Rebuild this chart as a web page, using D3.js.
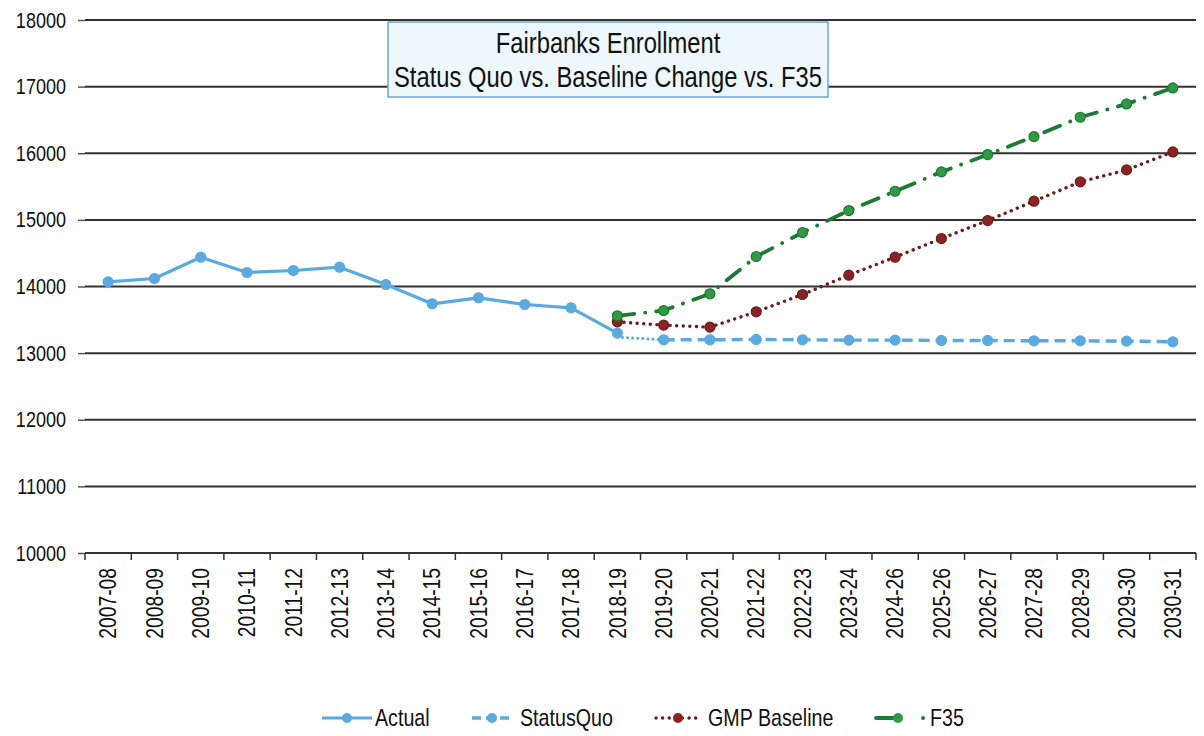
<!DOCTYPE html>
<html>
<head>
<meta charset="utf-8">
<script src="https://cdn.jsdelivr.net/npm/d3@7"></script>
<style>
  body { margin: 0; background: #fff; }
  svg { font-family: "Liberation Sans", Arial, sans-serif; }
</style>
</head>
<body>
<svg id="chart" width="1204" height="736"></svg>
<script>
// categories (school years)
const years = ["2007-08","2008-09","2009-10","2010-11","2011-12","2012-13","2013-14","2014-15",
  "2015-16","2016-17","2017-18","2018-19","2019-20","2020-21","2021-22","2022-23","2023-24",
  "2024-26","2025-26","2026-27","2027-28","2028-29","2029-30","2030-31"];

// series values (null = no value that year)
const actual = [14070,14120,14440,14210,14240,14290,14030,13740,13830,13730,13680,13300,
  null,null,null,null,null,null,null,null,null,null,null,null];
const statusQuo = [null,null,null,null,null,null,null,null,null,null,null,13240,
  13200,13200,13205,13200,13195,13195,13190,13190,13185,13185,13180,13170];
const gmpBaseline = [null,null,null,null,null,null,null,null,null,null,null,13470,
  13420,13390,13620,13880,14170,14440,14720,14990,15280,15570,15750,16020];
const f35 = [null,null,null,null,null,null,null,null,null,null,null,13560,
  13640,13890,14450,14810,15140,15430,15720,15980,16250,16540,16740,16980];

const yTicks = [10000,11000,12000,13000,14000,15000,16000,17000,18000];
const titleLines = ["Fairbanks Enrollment", "Status Quo vs. Baseline Change vs. F35"];

const svg = d3.select("#chart");
const plotLeft = 85, plotRight = 1196, plotTop = 20, plotBottom = 553;
const narrow = 0.82; // the original uses a condensed sans, squeeze text horizontally

const x = d3.scaleBand().domain(years).range([plotLeft, plotRight]).padding(0);
const y = d3.scaleLinear().domain([10000, 18000]).range([plotBottom, plotTop]);
const cx = d => x(d) + x.bandwidth() / 2;

// horizontal gridlines
svg.append("g")
  .selectAll("line")
  .data(yTicks.slice(1))
  .join("line")
  .attr("x1", plotLeft).attr("x2", plotRight)
  .attr("y1", d => y(d)).attr("y2", d => y(d))
  .attr("stroke", "#333")
  .attr("stroke-width", 2);

// y axis labels + small ticks
const yAxis = svg.append("g")
  .attr("transform", `translate(${plotLeft},0)`)
  .call(d3.axisLeft(y).tickValues(yTicks).tickSize(7).tickPadding(12).tickFormat(d3.format("d")));
yAxis.select(".domain").remove();
yAxis.selectAll(".tick line").attr("stroke", "#555").attr("stroke-width", 1.5);
yAxis.selectAll("text")
  .attr("font-size", 22)
  .attr("fill", "#111")
  .attr("x", 0)
  .attr("transform", `translate(-19,0) scale(${narrow},1)`);

// x axis baseline with tick marks at band boundaries
svg.append("line")
  .attr("x1", plotLeft).attr("x2", plotRight)
  .attr("y1", y(10000)).attr("y2", y(10000))
  .attr("stroke", "#333").attr("stroke-width", 2);
svg.append("g")
  .selectAll("line")
  .data(d3.range(years.length + 1))
  .join("line")
  .attr("x1", i => plotLeft + i * x.step()).attr("x2", i => plotLeft + i * x.step())
  .attr("y1", y(10000)).attr("y2", y(10000) + 7)
  .attr("stroke", "#333").attr("stroke-width", 1.5);

const xAxis = svg.append("g")
  .attr("transform", `translate(0,${plotBottom})`)
  .call(d3.axisBottom(x).tickSize(0).tickPadding(0));
xAxis.select(".domain").remove();
xAxis.selectAll("text")
  .attr("font-size", 23.5)
  .attr("fill", "#111")
  .attr("text-anchor", "end")
  .attr("y", 0)
  .attr("dy", "0.35em")
  .attr("transform", `translate(0,15) rotate(-90) scale(${narrow},1)`);

// series drawing
const series = [
  { name: "Actual", values: actual, color: "#5aaae0", marker: "#5aaae0", dash: null, width: 3.2 },
  { name: "StatusQuo", values: statusQuo, color: "#5aaae0", marker: "#5aaae0", dash: "11,6", width: 3.4, first: "0.1,5" },
  { name: "GMP Baseline", values: gmpBaseline, color: "#6e1d1d", marker: "#8a2424", dash: "0.1,6.5", width: 3.4, cap: "round" },
  { name: "F35", values: f35, color: "#1d7a35", marker: "#2f9a42", dash: "17,11,0.1,11", width: 3.8, cap: "round" }
];

const line = d3.line()
  .defined(d => d.v != null)
  .x(d => cx(d.year))
  .y(d => y(d.v));

series.forEach(s => {
  const pts = years.map((yr, i) => ({ year: yr, v: s.values[i] }));
  const valid = pts.filter(d => d.v != null);
  // dotted lead-in segment (first two points) for the status quo projection
  const mainPts = s.first ? valid.slice(1) : pts;
  if (s.first) {
    svg.append("path")
      .datum(valid.slice(0, 2))
      .attr("d", line)
      .attr("fill", "none")
      .attr("stroke", s.color)
      .attr("stroke-width", 3)
      .attr("stroke-linecap", "round")
      .attr("stroke-dasharray", s.first);
  }
  svg.append("path")
    .datum(mainPts)
    .attr("d", line)
    .attr("fill", "none")
    .attr("stroke", s.color)
    .attr("stroke-width", s.width)
    .attr("stroke-linecap", s.cap || "butt")
    .attr("stroke-linejoin", "round")
    .attr("stroke-dasharray", s.dash);
  svg.append("g")
    .selectAll("circle")
    .data(s.first ? valid.slice(1) : valid)
    .join("circle")
    .attr("cx", d => cx(d.year))
    .attr("cy", d => y(d.v))
    .attr("r", 5)
    .attr("fill", s.marker)
    .attr("stroke", s.color)
    .attr("stroke-width", 1.2);
});

// title box
const tb = svg.append("g");
tb.append("rect")
  .attr("x", 388).attr("y", 22).attr("width", 440).attr("height", 75)
  .attr("fill", "#eef7fc")
  .attr("stroke", "#6aa8d8")
  .attr("stroke-width", 1.5);
tb.selectAll("text")
  .data(titleLines)
  .join("text")
  .attr("text-anchor", "middle")
  .attr("font-size", 29)
  .attr("fill", "#111")
  .attr("transform", (d, i) => `translate(608,${53 + i * 34}) scale(${narrow},1)`)
  .text(d => d);

// legend
const legend = svg.append("g").attr("transform", "translate(0,718)");
const legendLine = [[322, 372], [472, 512], [656, 700], [876, 925]];
const legendMarker = [347, 492, 678, 898];
const legendText = [375, 520, 708, 930];
const legendDash = [null, "9,5", "0.1,6.5", "19,28,0.1,100"];
series.forEach((s, i) => {
  const g = legend.append("g");
  g.append("line")
    .attr("x1", legendLine[i][0]).attr("x2", legendLine[i][1])
    .attr("stroke", s.color)
    .attr("stroke-width", s.width)
    .attr("stroke-linecap", s.cap || "butt")
    .attr("stroke-dasharray", legendDash[i]);
  g.append("circle").attr("cx", legendMarker[i]).attr("r", 5).attr("fill", s.marker);
  g.append("text")
    .attr("dy", "0.35em")
    .attr("font-size", 24)
    .attr("fill", "#111")
    .attr("transform", `translate(${legendText[i]},0) scale(${narrow},1)`)
    .text(s.name);
});
</script>
</body>
</html>
